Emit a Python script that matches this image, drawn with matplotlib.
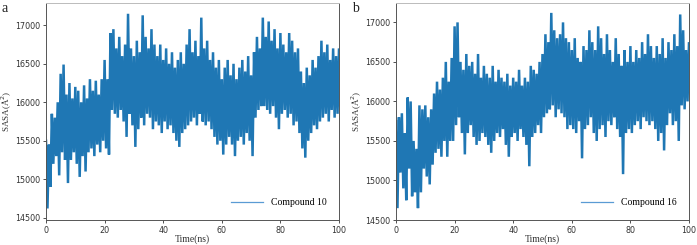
import numpy as np
import matplotlib
matplotlib.use("Agg")
import matplotlib.pyplot as plt

# SASA traces: per-ns upper and lower extremes
time_ns = np.arange(0, 101)

hi_10 = [15500, 15450, 15850, 15800, 16000, 16370, 16490, 16100, 16250, 16050,
         16200, 16150, 16000, 16220, 16050, 16300, 16150, 16280, 16100, 16300,
         16550, 16300, 16900, 16950, 16700, 16850, 16600, 16750, 17150, 16700,
         16600, 16800, 16650, 17130, 16850, 16700, 16950, 16750, 16600, 16750,
         16550, 16700, 16500, 16650, 16450, 16550, 16650, 16500, 16750, 16950,
         16650, 16800, 16600, 17100, 16700, 16800, 16550, 16650, 16450, 16550,
         16300, 16450, 16550, 16350, 16500, 16300, 16450, 16550, 16400, 16600,
         16350, 16650, 16850, 16700, 17100, 16850, 17050, 16800, 16950, 16700,
         16900, 16750, 16650, 16900, 16800, 16650, 16700, 16400, 16250, 16450,
         16350, 16550, 16450, 16600, 16800, 16650, 16750, 16550, 16700, 16600,
         16700]
lo_10 = [14620, 14900, 15200, 15300, 15050, 15350, 15250, 14950, 15250, 15350,
         15200, 15030, 15300, 15100, 15350, 15400, 15300, 15450, 15350, 15500,
         15400, 15320, 15900, 15850, 15800, 15900, 15750, 15550, 15850, 15700,
         15420, 15650, 15800, 15700, 15850, 15800, 15650, 15750, 15700, 15600,
         15750, 15650, 15700, 15600, 15500, 15420, 15600, 15650, 15700, 15750,
         15800, 15700, 15850, 15750, 15700, 15750, 15650, 15550, 15450, 15500,
         15320, 15450, 15550, 15450, 15300, 15500, 15550, 15450, 15600, 15500,
         15300, 15800, 15900, 15950, 15950, 15900, 15850, 15950, 15800, 15650,
         15850, 15900, 15800, 15850, 15700, 15750, 15600, 15400, 15280, 15500,
         15600, 15700, 15650, 15750, 15800, 15850, 15750, 15900, 15800, 15850,
         15800]

hi_16 = [15750, 15800, 15850, 15600, 16050, 16000, 15500, 15400, 15950, 15900,
         15950, 15800, 15900, 16100, 16250, 16150, 16300, 16500, 16250, 16550,
         16950, 17000, 16500, 16400, 16600, 16450, 16500, 16350, 16600, 16300,
         16450, 16350, 16300, 16450, 16250, 16400, 16300, 16250, 16350, 16200,
         16300, 16250, 16400, 16200, 16300, 16250, 16450, 16400, 16350, 16500,
         16600, 16850, 16750, 17120, 16900, 16800, 16850, 17000, 16800, 16750,
         16650, 16800, 16550, 16500, 16700, 16650, 16900, 16750, 16650, 16950,
         16800, 16600, 16850, 16650, 16500, 16800, 16600, 16450, 16650, 16500,
         16700, 16500, 16650, 16550, 16750, 16600, 16850, 16700, 16550, 16700,
         16600, 16800, 16550, 16750, 16650, 16850, 16700, 17100, 16900, 16650,
         16750]
lo_16 = [14650, 15100, 14900, 14750, 15150, 14800, 14850, 14650, 14850, 15150,
         15050, 14950, 15200, 15350, 15400, 15300, 15500, 15300, 15500, 15500,
         15700, 15800, 15600, 15330, 15600, 15700, 15550, 15450, 15500, 15600,
         15550, 15450, 15350, 15500, 15600, 15550, 15650, 15450, 15300, 15550,
         15600, 15500, 15650, 15550, 15450, 15180, 15550, 15600, 15700, 15600,
         15800, 15850, 15900, 15950, 15800, 15900, 15850, 15800, 15650, 15700,
         15650, 15600, 15750, 15280, 15650, 15700, 15800, 15600, 15500, 15650,
         15700, 15550, 15750, 15700, 15800, 15650, 15550, 15080, 15600, 15650,
         15600, 15700, 15750, 15650, 15800, 15750, 15700, 15750, 15650, 15500,
         15600, 15380, 15700, 15850, 15700, 15750, 15500, 15950, 15900, 16000,
         16100]

panels = [
    ("a", "Compound 10", hi_10, lo_10, (14470, 17290)),
    ("b", "Compound 16", hi_16, lo_16, (14510, 17245)),
]


def trace(hi, lo):
    # alternate upper / lower extreme every half ns
    t = np.empty(2 * len(time_ns))
    y = np.empty(2 * len(time_ns))
    t[0::2] = time_ns
    t[1::2] = time_ns + 0.5
    y[0::2] = hi
    y[1::2] = lo
    return t, y


serif = "Liberation Serif"
fig = plt.figure(figsize=(6.97, 2.45), dpi=100)
lefts = [46 / 697, 396 / 697]

for left, (letter, name, hi, lo, ylim) in zip(lefts, panels):
    ax = fig.add_axes([left, 25 / 245, 293 / 697, 217 / 245])
    t, y = trace(hi, lo)
    ax.plot(t, y, color="#1f77b4", lw=1.8, solid_joinstyle="miter")
    ax.set_xlim(0, 100)
    ax.set_ylim(*ylim)
    ax.set_xticks([0, 20, 40, 60, 80, 100])
    ax.set_yticks([14500, 15000, 15500, 16000, 16500, 17000])
    ax.tick_params(labelsize=5.8, length=2.5, width=0.6, pad=1.5,
                   colors="#333333")
    for side in ["left", "bottom", "right"]:
        ax.spines[side].set_color("#555555")
        ax.spines[side].set_linewidth(0.7)
    ax.spines["top"].set_color("#bbbbbb")
    ax.spines["top"].set_linewidth(0.7)
    ax.set_xlabel("Time(ns)", fontfamily=serif, fontsize=7, labelpad=0,
                  color="#333333")
    ax.set_ylabel("SASA(Å$^2$)", fontfamily=serif, fontsize=6.5, labelpad=1,
                  color="#333333")
    ax.legend([plt.Line2D([], [], color="#5a9bd4", lw=0.9)], [name],
              loc="lower right", frameon=False,
              prop={"family": serif, "size": 7}, handlelength=3.3,
              borderaxespad=0.9)
    fig.text(left - 44 / 697, 1 - 12 / 245, letter, fontfamily=serif,
             fontsize=10, color="#222222")

fig.savefig("out.png", dpi=100)
